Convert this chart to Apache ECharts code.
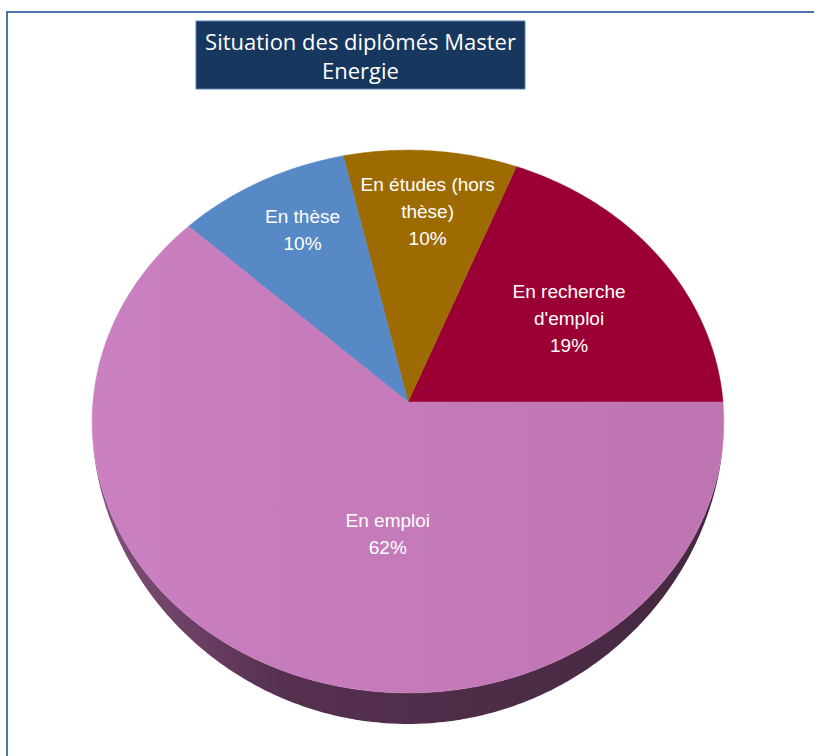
<!DOCTYPE html>
<html>
<head>
<meta charset="utf-8">
<script src="https://cdn.jsdelivr.net/npm/echarts@6/dist/echarts.min.js"></script>
<style>
html,body{margin:0;padding:0;background:#fff;}
#chart{width:814px;height:756px;}
</style>
</head>
<body>
<div id="chart"></div>
<script>
// ---- data ----
const categories = ["En recherche d'emploi", "En études (hors thèse)", "En thèse", "En emploi"];
const labelLines = ["En recherche\nd'emploi", "En études (hors\nthèse)", "En thèse", "En emploi"];
const shares = [19.0, 9.5, 9.5, 61.9];
const titleText = "Situation des diplômés Master\nEnergie";

// ---- style / layout ----
const sliceColors = ['#9b0034', '#9e6b02', '#5789c6', null];
const CX = 408, CY = 402, A = 315, B = 270, P = 0.0719, DEPTH = 31;
const labelR = [0.612, 0.748, 0.753, 0.476];
const labelT = [0.457, 0.482, 0.44, 0.563];

const total = shares.reduce((s, v) => s + v, 0);
const cum = [];
shares.reduce((s, v, i) => { cum[i] = s; return s + v; }, 0);

function proj(theta, r) {
  const x = r * Math.cos(theta), z = r * Math.sin(theta);
  const s = 1 / (1 + P * z);
  return [CX + A * x * s, CY - B * z * s];
}

function emploiGrad() {
  return new echarts.graphic.LinearGradient(0, 0, 1, 0, [
    { offset: 0, color: '#ca80c1' },
    { offset: 1, color: '#bf74b2' }
  ]);
}
function sideGrad() {
  return new echarts.graphic.LinearGradient(0, 0, 1, 0, [
    { offset: 0, color: '#84527b' },
    { offset: 0.3, color: '#55304f' },
    { offset: 1, color: '#452840' }
  ]);
}

function renderItem(params, api) {
  const i = params.dataIndex;
  const v = api.value(0);
  const t1 = cum[i] / total * 2 * Math.PI;
  const t2 = (cum[i] + v) / total * 2 * Math.PI;
  const children = [];

  // side (front half only)
  const s1 = Math.max(t1, Math.PI), s2 = Math.min(t2, 2 * Math.PI);
  if (s2 > s1) {
    const top = [], bot = [];
    const n = Math.max(4, Math.ceil((s2 - s1) / 0.01));
    for (let k = 0; k <= n; k++) {
      const th = s1 + (s2 - s1) * k / n;
      const p = proj(th, 1);
      top.push(p);
      const d = DEPTH * Math.pow(Math.max(0, -Math.sin(th)), 1.5);
      bot.push([p[0], p[1] + d]);
    }
    const pts = top.concat(bot.reverse());
    children.push({ type: 'polygon', shape: { points: pts },
      style: { fill: sideGrad(), stroke: null } });
  }

  // top face
  const pts = [[CX, CY]];
  const n = Math.max(4, Math.ceil((t2 - t1) / 0.01));
  for (let k = 0; k <= n; k++) pts.push(proj(t1 + (t2 - t1) * k / n, 1));
  const fill = sliceColors[i] || emploiGrad();
  children.push({ type: 'polygon', shape: { points: pts },
    style: { fill: fill, stroke: sliceColors[i] || '#c47ab8', lineWidth: 0.5 } });

  // label
  const la = t1 + (t2 - t1) * labelT[i];
  const lp = proj(la, labelR[i]);
  const pct = Math.round(v / total * 100) + '%';
  children.push({ type: 'text', x: lp[0], y: lp[1], z2: 10,
    style: { text: labelLines[i] + '\n' + pct, align: 'center', verticalAlign: 'middle',
      fill: '#ffffff', fontSize: 19, fontFamily: '"Liberation Sans", Arial, sans-serif',
      lineHeight: 27 } });

  return { type: 'group', children: children };
}

const chart = echarts.init(document.getElementById('chart'), null, { renderer: 'svg' });
chart.setOption({
  animation: false,
  backgroundColor: '#ffffff',
  graphic: [
    { type: 'rect', shape: { x: 7, y: 12, width: 830, height: 780 },
      style: { fill: 'none', stroke: '#4a76ad', lineWidth: 2 }, silent: true },
    { type: 'rect', shape: { x: 196, y: 21, width: 329, height: 68 },
      style: { fill: '#17375e', stroke: '#5a7fae', lineWidth: 1 }, silent: true },
    { type: 'text', x: 360.5, y: 55.5,
      style: { text: titleText, align: 'center', verticalAlign: 'middle', fill: '#ffffff',
        fontSize: 22, fontFamily: '"Open Sans", "Noto Sans", sans-serif', lineHeight: 29 } }
  ],
  series: [{
    type: 'custom',
    coordinateSystem: 'none',
    data: shares.map((v, i) => ({ name: categories[i], value: [v] })),
    renderItem: renderItem
  }]
});
</script>
</body>
</html>
